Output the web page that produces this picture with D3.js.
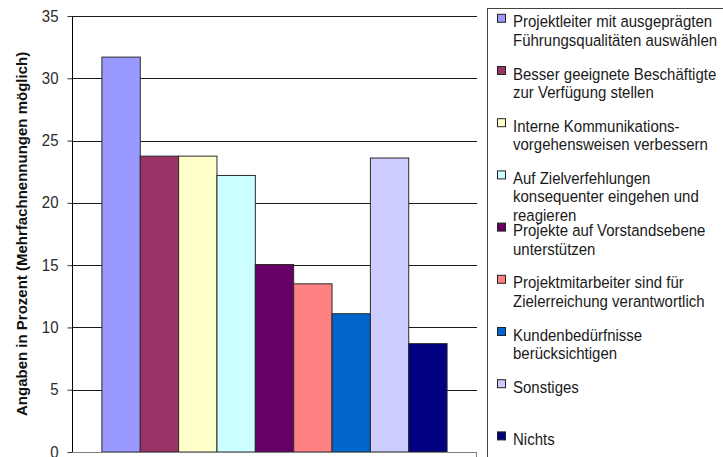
<!DOCTYPE html>
<html><head><meta charset="utf-8">
<script src="https://cdn.jsdelivr.net/npm/d3@7"></script>
<style>body{margin:0;background:#fff;}svg{display:block;font-family:"Liberation Sans",Arial,sans-serif;}</style>
</head><body>
<svg id="c" width="723" height="457"></svg>
<script>
const categories = [
  ["Projektleiter mit ausgeprägten", "Führungsqualitäten auswählen"],
  ["Besser geeignete Beschäftigte", "zur Verfügung stellen"],
  ["Interne Kommunikations-", "vorgehensweisen verbessern"],
  ["Auf Zielverfehlungen", "konsequenter eingehen und", "reagieren"],
  ["Projekte auf Vorstandsebene", "unterstützen"],
  ["Projektmitarbeiter sind für", "Zielerreichung verantwortlich"],
  ["Kundenbedürfnisse", "berücksichtigen"],
  ["Sonstiges"],
  ["Nichts"]
];
const values = [31.7, 23.75, 23.75, 22.2, 15.05, 13.5, 11.1, 23.6, 8.7];
const colors = ["#9999FF", "#993366", "#FFFFCC", "#CCFFFF", "#660066", "#FF8080", "#0066CC", "#CCCCFF", "#000080"];
const yTicks = [0, 5, 10, 15, 20, 25, 30, 35];
const yTitle = "Angaben in Prozent (Mehrfachnennungen möglich)";

const FONT = "'Liberation Sans', Arial, sans-serif";
const svg = d3.select("#c");
const keys = categories.map(c => c.join(" "));
const x = d3.scaleBand().domain(keys).range([72, 477]).paddingInner(0).paddingOuter(0.78);
const y = d3.scaleLinear().domain([0, 35]).range([452, 16]);

// gridlines
svg.append("g").selectAll("line").data(yTicks.filter(t => t > 0)).join("line")
  .attr("x1", 72).attr("x2", 477)
  .attr("y1", d => Math.round(y(d)) + 0.5).attr("y2", d => Math.round(y(d)) + 0.5)
  .attr("stroke", "#1a1a1a").attr("stroke-width", 1);

// bars
svg.append("g").selectAll("rect").data(values).join("rect")
  .attr("x", (d, i) => x(keys[i]))
  .attr("y", d => y(d))
  .attr("width", x.bandwidth())
  .attr("height", d => y(0) - y(d))
  .attr("fill", (d, i) => colors[i])
  .attr("stroke", "#2a2a2a").attr("stroke-width", 1);

// y axis
const yAxis = d3.axisLeft(y).tickValues(yTicks).tickSize(5).tickPadding(9);
const ya = svg.append("g").attr("transform", "translate(72.5,0)").call(yAxis);
ya.select(".domain").attr("stroke", "#000").attr("d", "M0," + y(35) + "V" + y(0));
ya.selectAll(".tick line").attr("stroke", "#333");
ya.selectAll(".tick text")
  .attr("fill", "#2a2a2a").attr("font-size", 15).attr("font-family", FONT)
  .attr("dy", null).attr("y", null)
  .attr("transform", "translate(0,5) scale(1,1.12)");

// x axis
const xa = svg.append("g").attr("transform", "translate(0," + (y(0) + 0.5) + ")");
xa.append("line").attr("x1", 72).attr("x2", 477).attr("stroke", "#808080");
xa.append("line").attr("x1", 476.5).attr("x2", 476.5).attr("y1", 0).attr("y2", 5).attr("stroke", "#808080");

// y title
svg.append("clipPath").attr("id", "tclip").append("rect").attr("x", 0).attr("y", 43).attr("width", 60).attr("height", 414);
svg.append("g").attr("clip-path", "url(#tclip)")
  .append("text").attr("transform", "translate(27,416) rotate(-90)")
  .attr("font-size", 15).attr("font-weight", "bold").attr("fill", "#111")
  .text(yTitle);

// legend
svg.append("rect").attr("x", 487.5).attr("y", 8.5).attr("width", 260).attr("height", 460)
  .attr("fill", "#fff").attr("stroke", "#444");
const lg = svg.append("g").selectAll("g").data(categories).join("g")
  .attr("transform", (d, i) => "translate(0," + (27.3 + i * 52.2) + ")");
lg.append("rect").attr("x", 497.5).attr("y", -13).attr("width", 8).attr("height", 8)
  .attr("fill", (d, i) => colors[i]).attr("stroke", "#222");
lg.selectAll("text").data(d => d).join("text")
  .attr("font-size", 15).attr("fill", "#1a1a1a")
  .attr("transform", (d, j) => "translate(513," + (j * 18.4) + ") scale(1,1.1)")
  .text(d => d);
</script>
</body></html>
